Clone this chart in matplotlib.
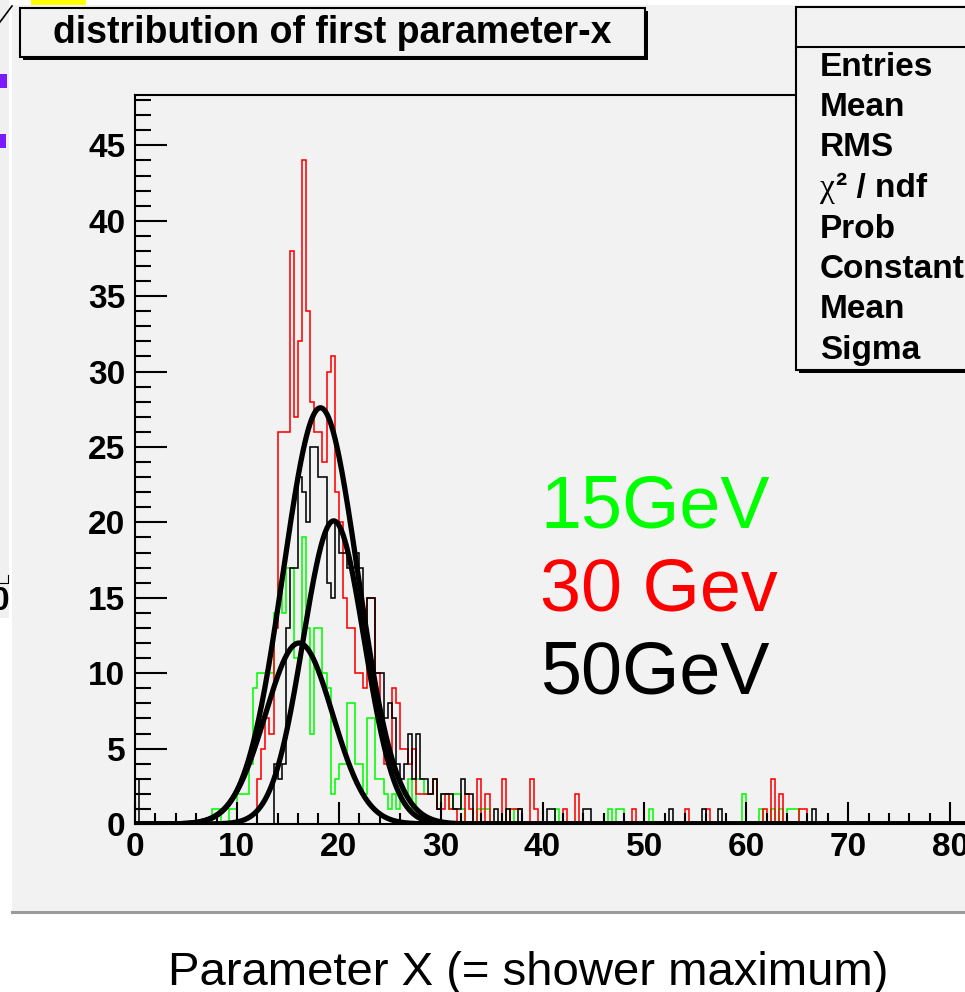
import numpy as np
import matplotlib
matplotlib.use("Agg")
import matplotlib.pyplot as plt
from matplotlib.patches import Rectangle
from matplotlib.lines import Line2D

plt.rcParams["font.family"] = ["Liberation Sans", "DejaVu Sans"]

# ---- data (bin width 0.4, core bins start at 6.0) ----
bin_width = 0.4
core_start = 6.0

counts_15gev_core = [
    0, 0, 0, 0, 1, 1, 0, 0, 1, 1,
    2, 2, 2, 4, 9, 10, 10, 10, 10, 14,
    16, 14, 17, 17, 11, 11, 19, 13, 6, 13,
    13, 10, 9, 2, 3, 4, 4, 8, 8, 4,
    4, 2, 7, 7, 3, 3, 2, 1, 2, 1,
    2, 2, 3, 1, 3, 3, 2, 2, 3, 1,
    2, 2, 1, 2, 2,
]
counts_30gev_core = [
    0, 0, 0, 0, 0, 0, 0, 0, 0, 0,
    0, 0, 0, 0, 0, 3, 5, 7, 6, 13,
    26, 26, 26, 38, 27, 32, 44, 34, 28, 26,
    26, 24, 30, 31, 22, 20, 15, 13, 13, 10,
    10, 9, 15, 15, 10, 7, 4, 4, 9, 8,
    5, 5, 4, 5, 2, 2, 2, 2, 3, 1,
    1, 2, 1, 1, 0,
]
counts_50gev_core = [
    0, 0, 0, 0, 0, 0, 0, 0, 0, 0,
    0, 0, 0, 0, 0, 0, 0, 0, 0, 4,
    3, 4, 13, 17, 17, 23, 22, 20, 25, 25,
    23, 23, 16, 15, 20, 18, 18, 17, 17, 18,
    17, 13, 15, 15, 10, 10, 7, 8, 7, 4,
    3, 4, 6, 3, 6, 3, 3, 2, 3, 1,
    2, 2, 2, 1, 1,
]

# isolated entries outside the core window
tail_15gev_x = [32.2, 33.8, 34.2, 34.6, 36.6, 37.4, 37.8, 41.4, 46.6, 47.4,
                47.8, 50.8, 59.6, 61.2, 62.6, 63.4, 64.2, 64.6, 65.0]
tail_15gev_n = [1, 1, 1, 1, 1, 1, 1, 1, 1, 1, 1, 1, 2, 1, 1, 1, 1, 1, 1]

tail_30gev_x = [32.6, 33.0, 33.8, 34.6, 36.2, 37.0, 37.4, 37.8, 39.0, 39.4,
                42.2, 43.4, 49.0, 54.2, 56.0, 61.6, 62.4, 63.4, 65.4, 65.8]
tail_30gev_n = [2, 1, 3, 2, 3, 1, 1, 1, 3, 1, 1, 2, 1, 1, 1, 1, 3, 2, 1, 1]

tail_50gev_x = [0.2, 32.2, 32.6, 33.0, 35.4, 36.6, 37.8, 40.6, 41.0, 44.4,
                44.8, 52.6, 55.6, 57.4, 66.6]
tail_50gev_n = [3, 3, 2, 2, 1, 1, 1, 1, 1, 1, 1, 1, 1, 1, 1]

# gaussian fits (constant, mean, sigma)
fit_const = [12.0, 20.1, 27.6]
fit_mean = [16.1, 19.5, 18.2]
fit_sigma = [3.3, 3.0, 3.65]

series_colors = ["#00ff00", "#ff0000", "#000000"]
energy_labels = ["15GeV", "30 Gev", "50GeV"]

stat_labels = ["Entries", "Mean", "RMS", None, "Prob",
               "Constant", "Mean", "Sigma"]

x_max = 90.0
y_max = 48.34


def build_counts(core, tail_x, tail_n):
    edges = np.arange(0, x_max + bin_width / 2, bin_width)
    counts = np.zeros(len(edges) - 1)
    start = int(round(core_start / bin_width))
    counts[start:start + len(core)] = core
    for x, n in zip(tail_x, tail_n):
        counts[int(np.floor(x / bin_width))] += n
    return counts, edges


W, H = 965, 992
fig = plt.figure(figsize=(W / 100, H / 100), dpi=100)
fig.patch.set_facecolor("white")


def px_rect(x0, y0, x1, y1, **kw):
    return Rectangle((x0 / W, 1 - y1 / H), (x1 - x0) / W, (y1 - y0) / H,
                     transform=fig.transFigure, **kw)


def px_line(xs, ys, **kw):
    return Line2D([x / W for x in xs], [1 - y / H for y in ys],
                  transform=fig.transFigure, **kw)


# ROOT canvas and bits of the window behind it
fig.patches.append(px_rect(12, 5, 970, 912, facecolor="#f2f2f2",
                           edgecolor="none", zorder=-10))
fig.lines.append(px_line([12, 965], [912, 912], color="#9a9a9a", lw=2.2,
                         zorder=-9))
fig.patches.append(px_rect(0, 0, 9, 618, facecolor="#f0f0f0",
                           edgecolor="none", zorder=-10))
fig.patches.append(px_rect(31, 0, 86, 5, facecolor="#ffff00",
                           edgecolor="none", zorder=-9))
fig.patches.append(px_rect(0, 74, 7, 88, facecolor="#7a1aff",
                           edgecolor="none", zorder=-9))
fig.patches.append(px_rect(0, 134, 6, 148, facecolor="#7a1aff",
                           edgecolor="none", zorder=-9))
fig.lines.append(px_line([0, 12], [22, 6], color="black", lw=1.2, zorder=-9))
fig.lines.append(px_line([0, 8, 8], [583, 583, 575], color="black", lw=0.8,
                         zorder=-9))
fig.text(9 / W, 1 - 610 / H, "0", fontsize=24, fontweight="bold",
         ha="right", va="baseline", zorder=-8)

# histogram frame
ax = fig.add_axes([135 / W, 1 - 824 / H, (1052 - 135) / W, (824 - 95) / H])
ax.set_facecolor("none")
ax.set_xlim(0, x_max)
ax.set_ylim(0, y_max)

cores = [counts_15gev_core, counts_30gev_core, counts_50gev_core]
tails_x = [tail_15gev_x, tail_30gev_x, tail_50gev_x]
tails_n = [tail_15gev_n, tail_30gev_n, tail_50gev_n]
for core, tx, tn, color in zip(cores, tails_x, tails_n, series_colors):
    counts, edges = build_counts(core, tx, tn)
    ax.stairs(counts, edges, color=color, lw=1.15, baseline=0)

xs = np.linspace(0, x_max, 3000)
for c, m, s in zip(fit_const, fit_mean, fit_sigma):
    ax.plot(xs, c * np.exp(-0.5 * ((xs - m) / s) ** 2), color="black",
            lw=3.8, solid_capstyle="round")

for side in ["left", "bottom", "top", "right"]:
    ax.spines[side].set_linewidth(1.5)
    ax.spines[side].set_zorder(4)

ax.set_xticks(np.arange(0, 91, 10))
ax.set_xticks(np.arange(0, 91, 2), minor=True)
ax.set_yticks(np.arange(0, 46, 5))
ax.set_yticks(np.arange(0, 49, 1), minor=True)
ax.tick_params(axis="x", which="major", direction="in", length=16, width=1.5,
               labelsize=24, pad=6)
ax.tick_params(axis="x", which="minor", direction="in", length=8, width=1.5)
ax.tick_params(axis="y", which="major", direction="in", length=23, width=1.5,
               labelsize=24, pad=7)
ax.tick_params(axis="y", which="minor", direction="in", length=11.5, width=1.5)
for lab in ax.get_xticklabels() + ax.get_yticklabels():
    lab.set_fontweight("bold")

# title box with shadow
fig.patches.append(px_rect(23, 11, 648, 60, facecolor="black",
                           edgecolor="none", zorder=5))
fig.patches.append(px_rect(20, 8, 645, 57, facecolor="#f2f2f2",
                           edgecolor="black", lw=1.5, zorder=5))
fig.text(332 / W, 1 - 33 / H, "distribution of first parameter-x",
         fontsize=27, fontweight="bold", ha="center", va="center", zorder=6)

# stats box with shadow
fig.patches.append(px_rect(799, 10, 1000, 373, facecolor="black",
                           edgecolor="none", zorder=5))
fig.patches.append(px_rect(796, 7, 1000, 370, facecolor="#f2f2f2",
                           edgecolor="black", lw=1.5, zorder=5))
fig.lines.append(px_line([796, 965], [47, 47], color="black", lw=1.5,
                         zorder=6))
for i, label in enumerate(stat_labels):
    y = 1 - (67 + 40.5 * i) / H
    if label is None:
        # chi-square row: symbol-font chi followed by bold text
        fig.text(820 / W, y, "\u03c7", fontsize=24, family="Liberation Serif",
                 ha="left", va="center", zorder=6)
        fig.text(836 / W, y, "\u00b2 / ndf", fontsize=24, fontweight="bold",
                 ha="left", va="center", zorder=6)
    else:
        fig.text(820 / W, y, label, fontsize=24, fontweight="bold",
                 ha="left", va="center", zorder=6)

# energy annotations
for i, (label, color) in enumerate(zip(energy_labels, series_colors)):
    fig.text(540 / W, 1 - (528 + 82.5 * i) / H, label, fontsize=53,
             color=color, ha="left", va="baseline", zorder=6)

fig.text(528 / W, 1 - 985 / H, "Parameter X (= shower maximum)",
         fontsize=34, ha="center", va="baseline")

fig.savefig("out.png", dpi=100)
